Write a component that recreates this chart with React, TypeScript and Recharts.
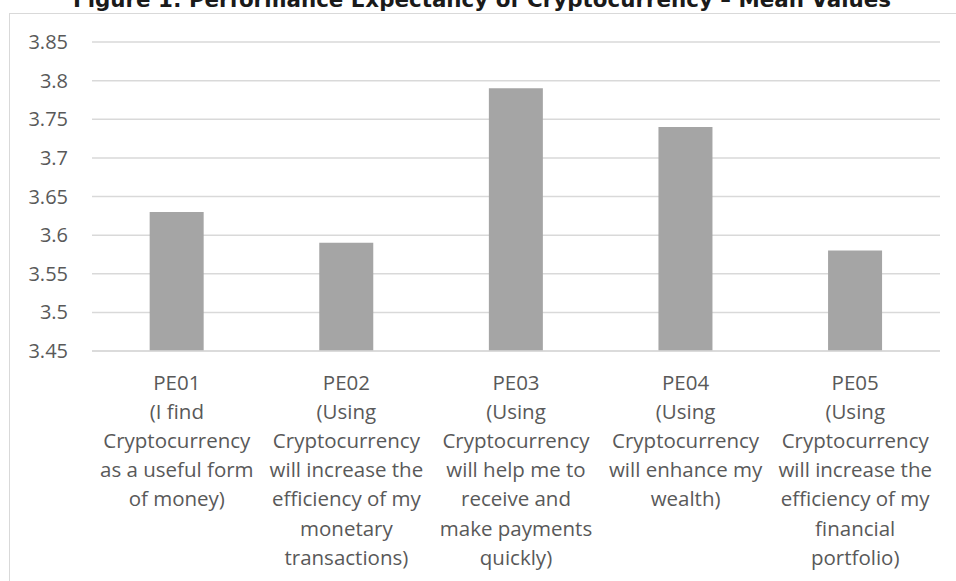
import { BarChart, Bar, XAxis, YAxis, CartesianGrid } from 'recharts';

const categories = ['PE01', 'PE02', 'PE03', 'PE04', 'PE05'];
const meanValues = [3.63, 3.59, 3.79, 3.74, 3.58];
const tickLines = [
  ['PE01', '(I find', 'Cryptocurrency', 'as a useful form', 'of money)'],
  ['PE02', '(Using', 'Cryptocurrency', 'will increase the', 'efficiency of my', 'monetary', 'transactions)'],
  ['PE03', '(Using', 'Cryptocurrency', 'will help me to', 'receive and', 'make payments', 'quickly)'],
  ['PE04', '(Using', 'Cryptocurrency', 'will enhance my', 'wealth)'],
  ['PE05', '(Using', 'Cryptocurrency', 'will increase the', 'efficiency of my', 'financial', 'portfolio)'],
];
const yTicks = [3.45, 3.5, 3.55, 3.6, 3.65, 3.7, 3.75, 3.8, 3.85];
const title = 'Figure 1: Performance Expectancy of Cryptocurrency – Mean Values';

const data = categories.map((c, i) => ({ name: c, value: meanValues[i] }));

const FONT = '"Open Sans", Lato, sans-serif';

const CategoryTick = (props: any) => {
  const { x, y, payload } = props;
  const lines = tickLines[payload.index] || [payload.value];
  return (
    <text x={x} y={y} textAnchor="middle" fill="#595959" fontSize={20.5} fontFamily={FONT}>
      {lines.map((l, i) => (
        <tspan key={i} x={x} y={y + 31 + i * 29.1}>{l}</tspan>
      ))}
    </text>
  );
};

const App = () => {
  return (
    <div style={{ position: 'fixed', left: 0, top: 0, width: 956, height: 581, background: '#fff', overflow: 'hidden' }}>
      <div style={{
        position: 'absolute', left: 9, top: 13, right: -2, bottom: -2,
        borderLeft: '1px solid #D9D9D9', borderTop: '1px solid #D9D9D9',
      }} />
      <div style={{
        position: 'absolute', left: 4, width: 956, top: -10, textAlign: 'center',
        fontFamily: '"DejaVu Sans", sans-serif', fontWeight: 'bold', fontSize: 21.4,
        lineHeight: '20px', color: '#1a1a1a', whiteSpace: 'nowrap',
      }}>{title}</div>
      <div style={{ position: 'absolute', left: 0, top: 0 }}>
        <BarChart width={956} height={581} data={data} margin={{ top: 42, right: 16, bottom: 0, left: 0 }} barCategoryGap="34%">
          <CartesianGrid vertical={false} stroke="#D9D9D9" strokeWidth={1.5} />
          <XAxis
            dataKey="name"
            height={230}
            interval={0}
            axisLine={{ stroke: '#D9D9D9', strokeWidth: 1.5 }}
            tickLine={false}
            tick={<CategoryTick />}
          />
          <YAxis
            domain={[3.45, 3.85]}
            ticks={yTicks}
            width={92}
            axisLine={false}
            tickLine={false}
            tickSize={0}
            tickMargin={24}
            allowDataOverflow
            tick={{ fill: '#595959', fontSize: 20, fontFamily: FONT }}
          />
          <Bar dataKey="value" fill="#A5A5A5" isAnimationActive={false} />
        </BarChart>
      </div>
    </div>
  );
};

export default App;
